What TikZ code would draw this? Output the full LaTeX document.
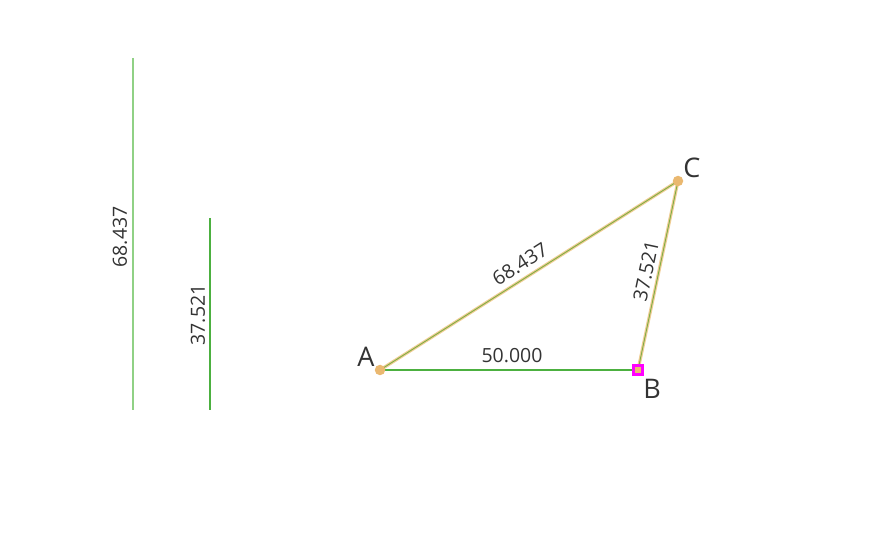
\documentclass[tikz,border=0pt]{standalone}
\usepackage{fontspec}
\setmainfont{Open Sans}
\usepackage{xcolor}
\definecolor{segline}{HTML}{4CB040}
\definecolor{tiltseg}{HTML}{7FAE45}
\definecolor{paleseg}{HTML}{90D185}
\definecolor{glow}{HTML}{F0CD95}
\definecolor{ptfill}{HTML}{EAB870}
\definecolor{hotpink}{HTML}{FF00FF}
\definecolor{ink}{HTML}{333333}
\usetikzlibrary{calc}
\tikzset{
  seg/.style    ={draw=segline,line width=1.1pt},
  hlseg/.style  ={draw=glow,line width=3.2pt},
  freept/.style ={circle,fill=ptfill,inner sep=0pt,minimum size=10.5pt},
  fixpt/.style  ={rectangle,draw=hotpink,line width=2.2pt,fill=ptfill,inner sep=0pt,minimum size=9pt},
  ptlbl/.style  ={font=\fontsize{27}{30}\selectfont,text=ink,inner sep=0pt},
  numlbl/.style ={font=\fontsize{19.5}{22}\selectfont,text=ink,inner sep=0pt},
}
\begin{document}
\begin{tikzpicture}[x=1pt,y=1pt]
\useasboundingbox (0,0) rectangle (877,538);
% ---- measured lengths on the left
\coordinate (m1top) at (133,480);
\coordinate (m1bot) at (133,128);
\coordinate (m2top) at (210,320);
\coordinate (m2bot) at (210,128);
\draw[draw=paleseg,line width=1.4pt] (m1top) -- (m1bot);
\draw[seg] (m2top) -- (m2bot);
\node[numlbl,rotate=90] (m1lbl) at (120,301) {68.437};
\node[numlbl,rotate=90] (m2lbl) at (198,223) {37.521};

% ---- triangle
\coordinate (A) at (380,168);
\coordinate (B) at (638,168);
\coordinate (C) at (678,357);
\draw[hlseg] (A) -- (C);
\draw[hlseg] (B) -- (C);
\draw[seg] (A) -- (B);
\draw[seg,draw=tiltseg,line width=0.9pt] (A) -- (C);
\draw[seg,draw=tiltseg,line width=0.9pt] (B) -- (C);
\node[numlbl] (ablbl) at (512,182) {50.000};
\node[numlbl,rotate=32.4] (aclbl) at (520,274) {68.437};
\node[numlbl,rotate=78] (bclbl) at (646,267) {37.521};

% ---- points
\node[freept] (pA) at (A) {};
\node[freept] (pC) at (C) {};
\node[fixpt] (pB) at (B) {};
\node[ptlbl] (lA) at (366,181) {A};
\node[ptlbl] (lB) at (652,149) {B};
\node[ptlbl] (lC) at (692,370) {C};
\end{tikzpicture}
\end{document}
